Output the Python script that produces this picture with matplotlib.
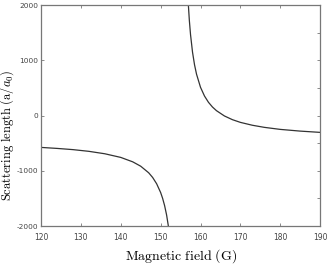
import matplotlib
matplotlib.use("Agg")
import matplotlib.pyplot as plt
from matplotlib.ticker import FuncFormatter

# values (magnetic field in G, scattering length in a0)
b_low = [120, 124, 128, 132, 136, 140, 143, 145, 147, 148, 149, 150, 150.5, 151, 151.5, 152]
a_low = [-576, -594, -616, -647, -691, -757, -837, -916, -1035, -1120, -1234, -1392, -1498, -1630, -1800, -2027]

b_high = [156.9, 157.2, 157.5, 158, 158.5, 159, 160, 161, 162, 163, 164, 166, 168, 170, 173, 176, 180, 185, 190]
a_high = [2066, 1724, 1464, 1147, 920, 750, 512, 354, 240, 155, 89, -7, -74, -123, -175, -213, -250, -281, -304]

x_ticks = [120, 130, 140, 150, 160, 170, 180, 190]
y_ticks = [-2000, -1000, 0, 1000, 2000]
y_ticks_right = [-2000, -1500, -1000, -500, 0, 500, 1000, 1500, 2000]

plt.rcParams['mathtext.fontset'] = 'cm'

fig = plt.figure(figsize=(3.28, 2.66), dpi=100)
ax = fig.add_axes([0.125, 0.150, 0.851, 0.831])

ax.plot(b_low, a_low, color='#333333', lw=0.9)
ax.plot(b_high, a_high, color='#333333', lw=0.9)

ax.set_xlim(120, 190)
ax.set_ylim(-2000, 2000)
ax.set_xticks(x_ticks)
ax.set_yticks(y_ticks)
ax.yaxis.set_major_formatter(FuncFormatter(lambda v, p: '%d' % v))

spine_col = '#777777'
for s in ax.spines.values():
    s.set_color(spine_col)
    s.set_linewidth(0.9)
ax.tick_params(direction='in', length=2.5, width=0.6, color=spine_col,
               labelsize=5.5, labelcolor='#444444', top=True)
ax.tick_params(axis='x', pad=5)
ax.tick_params(axis='y', pad=2, labelsize=5.3)

ax2 = ax.twinx()
ax2.set_ylim(-2000, 2000)
ax2.set_yticks(y_ticks_right)
ax2.tick_params(direction='in', length=2.5, width=0.6, color=spine_col, labelright=False)
for s in ax2.spines.values():
    s.set_visible(False)

ax.set_xlabel(r'$\mathrm{Magnetic\ field\ (G)}$', fontsize=10, labelpad=4)
ax.set_ylabel(r'$\mathrm{Scattering\ length\ (a/}a_0\mathrm{)}$', fontsize=9)
ax.yaxis.set_label_coords(-0.088, 0.41)

fig.savefig('out.png', dpi=100)
